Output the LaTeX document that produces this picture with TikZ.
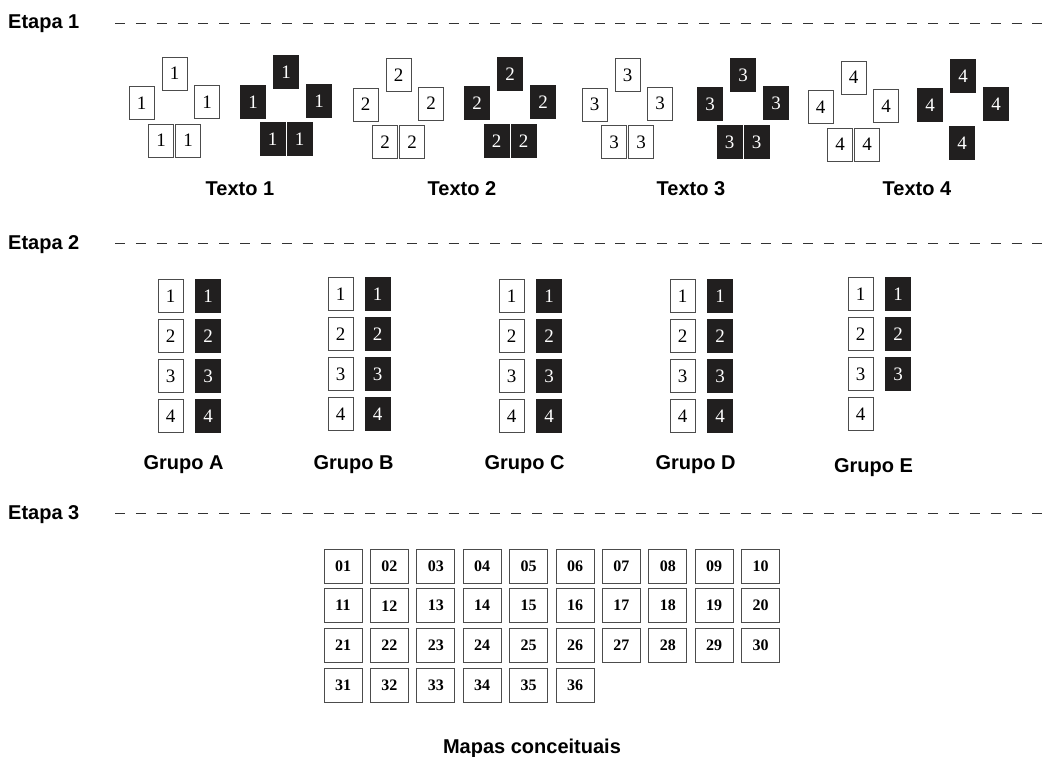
\documentclass[tikz,border=0pt]{standalone}
\usepackage{fontspec}
\setmainfont{Liberation Serif}
\newfontfamily\headfont{Liberation Sans}
\usetikzlibrary{positioning}

\definecolor{escuro}{rgb}{0.13,0.12,0.12}
\tikzset{
  folha/.style={draw=black!70, line width=0.8pt, fill=white, minimum width=25pt, minimum height=33pt, inner sep=0pt, font=\fontsize{19}{20}\selectfont},
  folhaescura/.style={fill=escuro, text=white, minimum width=26pt, minimum height=34pt, inner sep=0pt, font=\fontsize{19}{20}\selectfont},
  mapa/.style={draw=black!70, line width=0.8pt, minimum width=38pt, minimum height=34pt, inner sep=0pt, font=\bfseries\fontsize{16}{18}\selectfont},
  rotulo/.style={font=\headfont\bfseries\fontsize{20}{24}\selectfont, anchor=base, inner sep=0pt},
  etapa/.style={rotulo, anchor=base west},
  divisa/.style={black!80, line width=1.2pt, dash pattern=on 10pt off 10.85pt}
}

\begin{document}
\begin{tikzpicture}[x=1pt, y=-1pt]
        \useasboundingbox (0,0) rectangle (1052,757);

        \node[etapa] (etapa1) at (8,29) {Etapa 1};
        \node[etapa] (etapa2) at (8,249) {Etapa 2};
        \node[etapa] (etapa3) at (8,519) {Etapa 3};
        \foreach \e/\y in {1/23.5, 2/243.5, 3/513.5} {
            \coordinate (ini\e) at (115,\y);
            \coordinate (fim\e) at (1044,\y);
            \draw[divisa] (ini\e) -- (fim\e);
        }

        \foreach \g/\xw/\yw/\xd/\yd in {1/174.5/73.5/286/72.5, 2/398.5/75/510/74, 3/627.5/75/743/75, 4/853.5/77.5/963/76} {
            \node[folha] (w\g-t) at (\xw,\yw) {\g};
            \node[folha] (w\g-l) at (\xw-33,\yw+29.5) {\g};
            \node[folha] (w\g-r) at (\xw+32.5,\yw+28.5) {\g};
            \node[folha] (w\g-bl) at (\xw-13.5,\yw+67) {\g};
            \node[folha] (w\g-br) at (\xw+13.5,\yw+67) {\g};
            \node[folhaescura] (d\g-t) at (\xd,\yd) {\g};
            \node[folhaescura] (d\g-l) at (\xd-33,\yd+29.5) {\g};
            \node[folhaescura] (d\g-r) at (\xd+33,\yd+28.5) {\g};
            \ifnum\g<4
            \node[folhaescura] (d\g-bl) at (\xd-13.5,\yd+67) {\g};
            \node[folhaescura] (d\g-br) at (\xd+13.5,\yd+67) {\g};
            \fi
        }
        \node[folhaescura] (d4-b) at (962,143) {4};
        \foreach \g/\x in {1/240, 2/462, 3/691, 4/917}
            \node[rotulo] (texto\g) at (\x,195) {Texto \g};

        \foreach \g/\xw/\xd/\y/\nd/\yl in {A/170.5/208/296/4/469, B/340.5/377.5/294/4/469, C/511.5/549/296/4/469, D/682.5/720/296/4/469, E/860.5/898/294/3/472} {
            \foreach \k in {1,...,4}
                \node[folha] (g\g-w\k) at (\xw,\y+40*\k-40) {\k};
            \foreach \k in {1,...,\nd}
                \node[folhaescura] (g\g-d\k) at (\xd,\y+40*\k-40) {\k};
            \node[rotulo] (grupo\g) at (\xw+13,\yl) {Grupo \g};
        }

        \foreach \i in {1,...,36} {
            \pgfmathtruncatemacro\col{mod(\i-1,10)}
            \pgfmathtruncatemacro\lin{(\i-1)/10}
            \node[mapa] (m\i) at (343+46.4*\col,566+39.7*\lin) {\ifnum\i<10 0\fi\i};
        }
        \node[rotulo] (mapas) at (532,753) {Mapas conceituais};
    \end{tikzpicture}
\end{document}
